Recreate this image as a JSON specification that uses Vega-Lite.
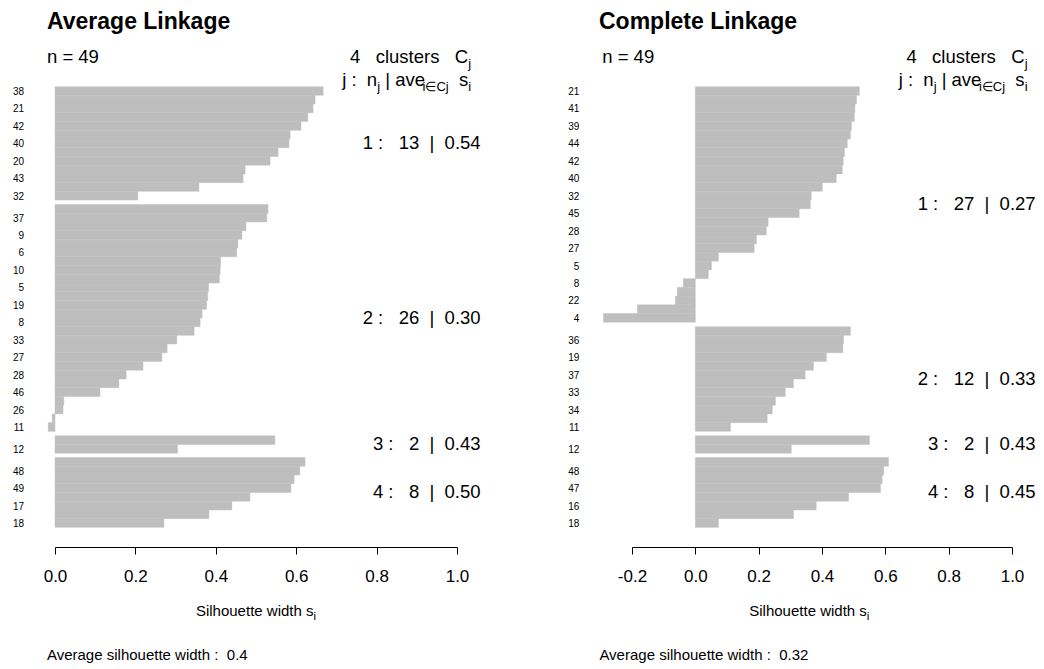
{
  "$schema": "https://vega.github.io/schema/vega-lite/v6.json",
  "padding": {"left": 12, "top": 11, "right": 5, "bottom": 5},
  "background": "white",
  "bounds": "flush",
  "spacing": 175,
  "config": {
    "view": {"stroke": null},
    "text": {"font": "Liberation Sans", "color": "black"},
    "title": {"font": "Liberation Sans", "fontSize": 23, "fontWeight": "bold", "color": "black", "anchor": "start", "frame": "group", "baseline": "alphabetic", "offset": 14}
  },
  "datasets": {
    "average": [
      {"cluster": 1, "id": "38", "s": 0.667}, {"cluster": 1, "id": null, "s": 0.647},
      {"cluster": 1, "id": "21", "s": 0.642}, {"cluster": 1, "id": null, "s": 0.629},
      {"cluster": 1, "id": "42", "s": 0.612}, {"cluster": 1, "id": null, "s": 0.585},
      {"cluster": 1, "id": "40", "s": 0.582}, {"cluster": 1, "id": null, "s": 0.555},
      {"cluster": 1, "id": "20", "s": 0.535}, {"cluster": 1, "id": null, "s": 0.473},
      {"cluster": 1, "id": "43", "s": 0.468}, {"cluster": 1, "id": null, "s": 0.358},
      {"cluster": 1, "id": "32", "s": 0.206},
      {"cluster": 2, "id": null, "s": 0.530}, {"cluster": 2, "id": "37", "s": 0.527},
      {"cluster": 2, "id": null, "s": 0.475}, {"cluster": 2, "id": "9", "s": 0.465},
      {"cluster": 2, "id": null, "s": 0.455}, {"cluster": 2, "id": "6", "s": 0.452},
      {"cluster": 2, "id": null, "s": 0.412}, {"cluster": 2, "id": "10", "s": 0.411},
      {"cluster": 2, "id": null, "s": 0.409}, {"cluster": 2, "id": "5", "s": 0.382},
      {"cluster": 2, "id": null, "s": 0.380}, {"cluster": 2, "id": "19", "s": 0.377},
      {"cluster": 2, "id": null, "s": 0.366}, {"cluster": 2, "id": "8", "s": 0.361},
      {"cluster": 2, "id": null, "s": 0.346}, {"cluster": 2, "id": "33", "s": 0.303},
      {"cluster": 2, "id": null, "s": 0.279}, {"cluster": 2, "id": "27", "s": 0.266},
      {"cluster": 2, "id": null, "s": 0.219}, {"cluster": 2, "id": "28", "s": 0.177},
      {"cluster": 2, "id": null, "s": 0.159}, {"cluster": 2, "id": "46", "s": 0.112},
      {"cluster": 2, "id": null, "s": 0.022}, {"cluster": 2, "id": "26", "s": 0.020},
      {"cluster": 2, "id": null, "s": -0.007}, {"cluster": 2, "id": "11", "s": -0.017},
      {"cluster": 3, "id": null, "s": 0.547}, {"cluster": 3, "id": "12", "s": 0.305},
      {"cluster": 4, "id": null, "s": 0.622}, {"cluster": 4, "id": "48", "s": 0.609},
      {"cluster": 4, "id": null, "s": 0.595}, {"cluster": 4, "id": "49", "s": 0.587},
      {"cluster": 4, "id": null, "s": 0.485}, {"cluster": 4, "id": "17", "s": 0.440},
      {"cluster": 4, "id": null, "s": 0.383}, {"cluster": 4, "id": "18", "s": 0.271}
    ],
    "complete": [
      {"cluster": 1, "id": "21", "s": 0.518}, {"cluster": 1, "id": null, "s": 0.509},
      {"cluster": 1, "id": "41", "s": 0.504}, {"cluster": 1, "id": null, "s": 0.502},
      {"cluster": 1, "id": "39", "s": 0.493}, {"cluster": 1, "id": null, "s": 0.490},
      {"cluster": 1, "id": "44", "s": 0.480}, {"cluster": 1, "id": null, "s": 0.471},
      {"cluster": 1, "id": "42", "s": 0.467}, {"cluster": 1, "id": null, "s": 0.464},
      {"cluster": 1, "id": "40", "s": 0.445}, {"cluster": 1, "id": null, "s": 0.401},
      {"cluster": 1, "id": "32", "s": 0.366}, {"cluster": 1, "id": null, "s": 0.363},
      {"cluster": 1, "id": "45", "s": 0.328}, {"cluster": 1, "id": null, "s": 0.230},
      {"cluster": 1, "id": "28", "s": 0.224}, {"cluster": 1, "id": null, "s": 0.193},
      {"cluster": 1, "id": "27", "s": 0.186}, {"cluster": 1, "id": null, "s": 0.073},
      {"cluster": 1, "id": "5", "s": 0.051}, {"cluster": 1, "id": null, "s": 0.041},
      {"cluster": 1, "id": "8", "s": -0.038}, {"cluster": 1, "id": null, "s": -0.057},
      {"cluster": 1, "id": "22", "s": -0.063}, {"cluster": 1, "id": null, "s": -0.183},
      {"cluster": 1, "id": "4", "s": -0.290},
      {"cluster": 2, "id": null, "s": 0.490}, {"cluster": 2, "id": "36", "s": 0.468},
      {"cluster": 2, "id": null, "s": 0.466}, {"cluster": 2, "id": "19", "s": 0.414},
      {"cluster": 2, "id": null, "s": 0.373}, {"cluster": 2, "id": "37", "s": 0.347},
      {"cluster": 2, "id": null, "s": 0.310}, {"cluster": 2, "id": "33", "s": 0.284},
      {"cluster": 2, "id": null, "s": 0.253}, {"cluster": 2, "id": "34", "s": 0.243},
      {"cluster": 2, "id": null, "s": 0.227}, {"cluster": 2, "id": "11", "s": 0.111},
      {"cluster": 3, "id": null, "s": 0.550}, {"cluster": 3, "id": "12", "s": 0.303},
      {"cluster": 4, "id": null, "s": 0.610}, {"cluster": 4, "id": "48", "s": 0.595},
      {"cluster": 4, "id": null, "s": 0.590}, {"cluster": 4, "id": "47", "s": 0.585},
      {"cluster": 4, "id": null, "s": 0.484}, {"cluster": 4, "id": "16", "s": 0.382},
      {"cluster": 4, "id": null, "s": 0.310}, {"cluster": 4, "id": "18", "s": 0.073}
    ]
  },
  "hconcat": [
    {
      "data": {"name": "average"},
      "width": 402,
      "height": 476,
      "title": {"text": "Average Linkage", "dx": -8},
      "transform": [
        {"window": [{"op": "row_number", "as": "rank"}], "sort": [{"field": "cluster", "order": "ascending"}, {"field": "s", "order": "descending"}]},
        {"calculate": "datum.rank - 1 + 0.5 * (datum.cluster - 1)", "as": "top"},
        {"calculate": "datum.top + 1", "as": "bottom"},
        {"calculate": "datum.top + 0.5", "as": "mid"}
      ],
      "layer": [
        {
          "mark": {"type": "rect", "color": "#bebebe", "stroke": "#bebebe", "strokeWidth": 0.4},
          "encoding": {
            "x": {"field": "s", "type": "quantitative", "scale": {"domain": [0, 1], "nice": false, "zero": false},
              "axis": {"values": [0, 0.2, 0.4, 0.6, 0.8, 1], "labelExpr": "replace(format(datum.value, '.1f'), '\u2212', '-')", "title": null, "grid": false, "domainColor": "black", "tickColor": "black", "tickSize": 7, "labelFontSize": 17, "labelFont": "Liberation Sans", "labelColor": "black", "labelPadding": 14, "offset": 2, "labelFlush": false, "labelOverlap": false}},
            "x2": {"datum": 0},
            "y": {"field": "top", "type": "quantitative", "scale": {"domain": [-2.02, 52.52], "reverse": true, "nice": false, "zero": false}, "axis": null},
            "y2": {"field": "bottom"}
          }
        },
        {
          "transform": [{"filter": "datum.id != null"}],
          "mark": {"type": "text", "align": "right", "baseline": "middle", "fontSize": 10, "dy": 1},
          "encoding": {
            "x": {"datum": -0.077},
            "y": {"field": "mid", "type": "quantitative", "axis": null},
            "text": {"field": "id"}
          }
        },
        {
          "transform": [
            {"aggregate": [{"op": "count", "as": "n"}, {"op": "mean", "field": "s", "as": "avg"}, {"op": "mean", "field": "mid", "as": "cmid"}], "groupby": ["cluster"]},
            {"calculate": "datum.cluster + '\u00a0:\u00a0\u00a0\u00a0' + datum.n + '\u00a0\u00a0|\u00a0\u00a0' + format(datum.avg, '.2f')", "as": "lab"}
          ],
          "mark": {"type": "text", "align": "right", "baseline": "middle", "fontSize": 18.5, "dx": 23.6},
          "encoding": {
            "x": {"datum": 1},
            "y": {"field": "cmid", "type": "quantitative", "axis": null},
            "text": {"field": "lab"}
          }
        },
        {
          "transform": [
            {"aggregate": [{"op": "count", "as": "n"}, {"op": "distinct", "field": "cluster", "as": "k"}, {"op": "mean", "field": "s", "as": "avg"}]},
            {"calculate": "'n = ' + datum.n", "as": "nlab"},
            {"calculate": "datum.k + '\u00a0\u00a0\u00a0clusters\u00a0\u00a0\u00a0C'", "as": "klab"},
            {"calculate": "'Average silhouette width :\u00a0\u00a0' + format(datum.avg, '.2~f')", "as": "sublab"}
          ],
          "layer": [
            {"mark": {"type": "text", "align": "left", "baseline": "alphabetic", "fontSize": 18.5},
             "encoding": {"x": {"datum": -0.02}, "y": {"datum": -2.67, "axis": null}, "text": {"field": "nlab"}}},
            {"mark": {"type": "text", "align": "right", "baseline": "alphabetic", "fontSize": 18.5, "dx": -2.9},
             "encoding": {"x": {"datum": 1.035}, "y": {"datum": -2.67, "axis": null}, "text": {"field": "klab"}}},
            {"mark": {"type": "text", "align": "right", "baseline": "alphabetic", "fontSize": 13, "dy": 5, "text": "j"},
             "encoding": {"x": {"datum": 1.035}, "y": {"datum": -2.67, "axis": null}}},
            {"mark": {"type": "text", "align": "right", "baseline": "alphabetic", "fontSize": 18.5, "dx": -93.9, "text": "j\u00a0:\u00a0\u00a0n"},
             "encoding": {"x": {"datum": 1.035}, "y": {"datum": -0.03, "axis": null}}},
            {"mark": {"type": "text", "align": "right", "baseline": "alphabetic", "fontSize": 13, "dx": -91.0, "dy": 5, "text": "j"},
             "encoding": {"x": {"datum": 1.035}, "y": {"datum": -0.03, "axis": null}}},
            {"mark": {"type": "text", "align": "right", "baseline": "alphabetic", "fontSize": 18.5, "dx": -46.1, "text": "\u00a0|\u00a0ave"},
             "encoding": {"x": {"datum": 1.035}, "y": {"datum": -0.03, "axis": null}}},
            {"mark": {"type": "text", "align": "right", "baseline": "alphabetic", "fontSize": 13, "dx": -22.4, "dy": 5, "text": "i\u2208Cj"},
             "encoding": {"x": {"datum": 1.035}, "y": {"datum": -0.03, "axis": null}}},
            {"mark": {"type": "text", "align": "right", "baseline": "alphabetic", "fontSize": 18.5, "dx": -2.9, "text": "\u00a0\u00a0s"},
             "encoding": {"x": {"datum": 1.035}, "y": {"datum": -0.03, "axis": null}}},
            {"mark": {"type": "text", "align": "right", "baseline": "alphabetic", "fontSize": 13, "dy": 5, "text": "i"},
             "encoding": {"x": {"datum": 1.035}, "y": {"datum": -0.03, "axis": null}}},
            {"mark": {"type": "text", "align": "right", "baseline": "alphabetic", "fontSize": 15, "dx": 57.5, "text": "Silhouette width s"},
             "encoding": {"x": {"datum": 0.5}, "y": {"datum": 60.66, "axis": null}}},
            {"mark": {"type": "text", "align": "right", "baseline": "alphabetic", "fontSize": 11.5, "dx": 60.05, "dy": 4, "text": "i"},
             "encoding": {"x": {"datum": 0.5}, "y": {"datum": 60.66, "axis": null}}},
            {"mark": {"type": "text", "align": "left", "baseline": "alphabetic", "fontSize": 15},
             "encoding": {"x": {"datum": -0.02}, "y": {"datum": 65.7, "axis": null}, "text": {"field": "sublab"}}}
          ]
        }
      ]
    },
    {
      "data": {"name": "complete"},
      "width": 380,
      "height": 476,
      "title": {"text": "Complete Linkage", "dx": -33},
      "transform": [
        {"window": [{"op": "row_number", "as": "rank"}], "sort": [{"field": "cluster", "order": "ascending"}, {"field": "s", "order": "descending"}]},
        {"calculate": "datum.rank - 1 + 0.5 * (datum.cluster - 1)", "as": "top"},
        {"calculate": "datum.top + 1", "as": "bottom"},
        {"calculate": "datum.top + 0.5", "as": "mid"}
      ],
      "layer": [
        {
          "mark": {"type": "rect", "color": "#bebebe", "stroke": "#bebebe", "strokeWidth": 0.4},
          "encoding": {
            "x": {"field": "s", "type": "quantitative", "scale": {"domain": [-0.2, 1], "nice": false, "zero": false},
              "axis": {"values": [-0.2, 0, 0.2, 0.4, 0.6, 0.8, 1], "labelExpr": "replace(format(datum.value, '.1f'), '\u2212', '-')", "title": null, "grid": false, "domainColor": "black", "tickColor": "black", "tickSize": 7, "labelFontSize": 17, "labelFont": "Liberation Sans", "labelColor": "black", "labelPadding": 14, "offset": 2, "labelFlush": false, "labelOverlap": false}},
            "x2": {"datum": 0},
            "y": {"field": "top", "type": "quantitative", "scale": {"domain": [-2.02, 52.52], "reverse": true, "nice": false, "zero": false}, "axis": null},
            "y2": {"field": "bottom"}
          }
        },
        {
          "transform": [{"filter": "datum.id != null"}],
          "mark": {"type": "text", "align": "right", "baseline": "middle", "fontSize": 10, "dy": 1},
          "encoding": {
            "x": {"datum": -0.366},
            "y": {"field": "mid", "type": "quantitative", "axis": null},
            "text": {"field": "id"}
          }
        },
        {
          "transform": [
            {"aggregate": [{"op": "count", "as": "n"}, {"op": "mean", "field": "s", "as": "avg"}, {"op": "mean", "field": "mid", "as": "cmid"}], "groupby": ["cluster"]},
            {"calculate": "datum.cluster + '\u00a0:\u00a0\u00a0\u00a0' + datum.n + '\u00a0\u00a0|\u00a0\u00a0' + format(datum.avg, '.2f')", "as": "lab"}
          ],
          "mark": {"type": "text", "align": "right", "baseline": "middle", "fontSize": 18.5, "dx": 23.6},
          "encoding": {
            "x": {"datum": 1},
            "y": {"field": "cmid", "type": "quantitative", "axis": null},
            "text": {"field": "lab"}
          }
        },
        {
          "transform": [
            {"aggregate": [{"op": "count", "as": "n"}, {"op": "distinct", "field": "cluster", "as": "k"}, {"op": "mean", "field": "s", "as": "avg"}]},
            {"calculate": "'n = ' + datum.n", "as": "nlab"},
            {"calculate": "datum.k + '\u00a0\u00a0\u00a0clusters\u00a0\u00a0\u00a0C'", "as": "klab"},
            {"calculate": "'Average silhouette width :\u00a0\u00a0' + format(datum.avg, '.2~f')", "as": "sublab"}
          ],
          "layer": [
            {"mark": {"type": "text", "align": "left", "baseline": "alphabetic", "fontSize": 18.5},
             "encoding": {"x": {"datum": -0.294}, "y": {"datum": -2.67, "axis": null}, "text": {"field": "nlab"}}},
            {"mark": {"type": "text", "align": "right", "baseline": "alphabetic", "fontSize": 18.5, "dx": -2.9},
             "encoding": {"x": {"datum": 1.049}, "y": {"datum": -2.67, "axis": null}, "text": {"field": "klab"}}},
            {"mark": {"type": "text", "align": "right", "baseline": "alphabetic", "fontSize": 13, "dy": 5, "text": "j"},
             "encoding": {"x": {"datum": 1.049}, "y": {"datum": -2.67, "axis": null}}},
            {"mark": {"type": "text", "align": "right", "baseline": "alphabetic", "fontSize": 18.5, "dx": -93.9, "text": "j\u00a0:\u00a0\u00a0n"},
             "encoding": {"x": {"datum": 1.049}, "y": {"datum": -0.03, "axis": null}}},
            {"mark": {"type": "text", "align": "right", "baseline": "alphabetic", "fontSize": 13, "dx": -91.0, "dy": 5, "text": "j"},
             "encoding": {"x": {"datum": 1.049}, "y": {"datum": -0.03, "axis": null}}},
            {"mark": {"type": "text", "align": "right", "baseline": "alphabetic", "fontSize": 18.5, "dx": -46.1, "text": "\u00a0|\u00a0ave"},
             "encoding": {"x": {"datum": 1.049}, "y": {"datum": -0.03, "axis": null}}},
            {"mark": {"type": "text", "align": "right", "baseline": "alphabetic", "fontSize": 13, "dx": -22.4, "dy": 5, "text": "i\u2208Cj"},
             "encoding": {"x": {"datum": 1.049}, "y": {"datum": -0.03, "axis": null}}},
            {"mark": {"type": "text", "align": "right", "baseline": "alphabetic", "fontSize": 18.5, "dx": -2.9, "text": "\u00a0\u00a0s"},
             "encoding": {"x": {"datum": 1.049}, "y": {"datum": -0.03, "axis": null}}},
            {"mark": {"type": "text", "align": "right", "baseline": "alphabetic", "fontSize": 13, "dy": 5, "text": "i"},
             "encoding": {"x": {"datum": 1.049}, "y": {"datum": -0.03, "axis": null}}},
            {"mark": {"type": "text", "align": "right", "baseline": "alphabetic", "fontSize": 15, "dx": 57.5, "text": "Silhouette width s"},
             "encoding": {"x": {"datum": 0.36}, "y": {"datum": 60.66, "axis": null}}},
            {"mark": {"type": "text", "align": "right", "baseline": "alphabetic", "fontSize": 11.5, "dx": 60.05, "dy": 4, "text": "i"},
             "encoding": {"x": {"datum": 0.36}, "y": {"datum": 60.66, "axis": null}}},
            {"mark": {"type": "text", "align": "left", "baseline": "alphabetic", "fontSize": 15},
             "encoding": {"x": {"datum": -0.303}, "y": {"datum": 65.7, "axis": null}, "text": {"field": "sublab"}}}
          ]
        }
      ]
    }
  ]
}
